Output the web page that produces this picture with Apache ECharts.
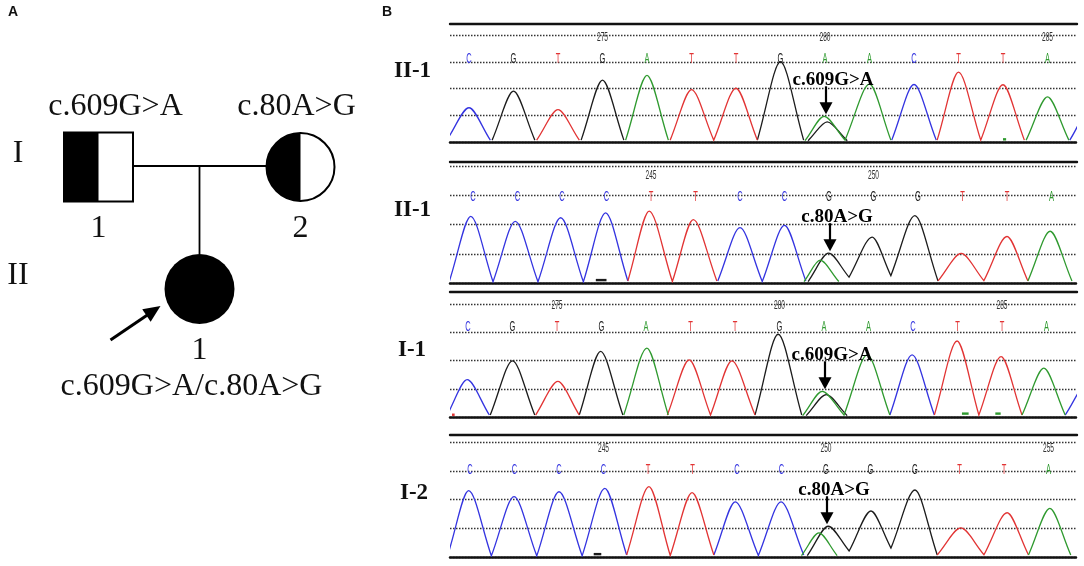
<!DOCTYPE html>
<html>
<head>
    <meta charset="utf-8">
    <title>Pedigree and Sanger sequencing</title>
    <style>
        html, body { margin: 0; padding: 0; background: #fff; }
        #chart { width: 1084px; height: 566px; }
    </style>
</head>
<body>
<div id="chart"></div>

<script src="https://cdn.jsdelivr.net/npm/echarts@6/dist/echarts.min.js"></script>
<script>
    // ---- pedigree (panel A) ----
    var pedIds = ['I-1', 'I-2', 'II-1'];
    var pedGen = [1, 1, 2];
    var pedPos = [1, 3, 2];
    var pedSex = ['M', 'F', 'F'];
    var pedStatus = ['carrier', 'carrier', 'affected'];
    var pedNumbers = ['1', '2', '1'];
    var pedGenotypes = ['c.609G>A', 'c.80A>G', 'c.609G>A/c.80A>G'];
    var pedProband = [false, false, true];
    var genLabels = ['', 'I', 'II', ''];
    var matings = [[1, 3, 1, 2]]; // father pos, mother pos, generation, child pos

    // ---- chromatograms (panel B) ----
    var rowNames = ['II-1', 'II-1', 'I-1', 'I-2'];
    var rowBases = ['CGTGATTGAACTTA', 'CCCCTTCCGGGTTA', 'CGTGATTGAACTTA', 'CCCCTTCCGGGTTA'];
    var rowTicks = [
        [[3, '275'], [8, '280'], [13, '285']],
        [[4, '245'], [9, '250']],
        [[2, '275'], [7, '280'], [12, '285']],
        [[3, '245'], [8, '250'], [13, '255']]
    ];
    var rowMutation = ['c.609G>A', 'c.80A>G', 'c.609G>A', 'c.80A>G'];
    var rowMutationAt = [8, 8, 8, 8];

    // trace extrema per dye: [base index, signal], valley / crest / valley ...
    var row1C = [[[-0.5, 0.07], [0, 1.28], [0.48, 0.07]], [[9.5, 0.07], [10, 2.15], [10.5, 0.07]], [[13.5, 0.07], [14, 1.35], [14.5, 0.07]]];
    var row1G = [[[0.52, 0.07], [1, 1.9], [1.48, 0.07]], [[2.52, 0.07], [3, 2.31], [3.48, 0.07]], [[6.48, 0.07], [7, 3.0], [7.52, 0.07]], [[7.62, 0.05], [8.05, 0.75], [8.5, 0.05]]];
    var row1T = [[[1.52, 0.07], [2, 1.21], [2.48, 0.07]], [[4.52, 0.07], [5, 1.96], [5.5, 0.07], [6, 2.01], [6.48, 0.07]], [[10.52, 0.07], [11, 2.61], [11.5, 0.07], [12, 2.14], [12.48, 0.07]]];
    var row1A = [[[3.52, 0.07], [4, 2.49], [4.48, 0.07]], [[7.55, 0.05], [7.98, 0.96], [8.45, 0.07], [9, 2.16], [9.48, 0.07]], [[12.52, 0.07], [13, 1.69], [13.48, 0.07]]];

    var row2C = [[[-0.53, 0.07], [-0.05, 2.28], [0.45, 0.04], [0.95, 2.11], [1.46, 0.04], [1.97, 2.23], [2.48, 0.04], [2.98, 2.4], [3.48, 0.07]], [[5.5, 0.07], [6, 1.89], [6.5, 0.05], [7, 1.97], [7.48, 0.07]]];
    var row2G = [[[7.53, 0.05], [7.99, 1.02], [8.45, 0.2], [8.97, 1.57], [9.39, 0.25], [9.93, 2.3], [10.45, 0.07]]];
    var row2T = [[[3.48, 0.07], [3.96, 2.46], [4.48, 0.05], [4.95, 2.17], [5.48, 0.07]], [[10.45, 0.07], [10.97, 1.01], [11.48, 0.08], [12, 1.59], [12.47, 0.07]]];
    var row2A = [[[7.44, 0.05], [7.8, 0.78], [8.22, 0.05]], [[12.47, 0.07], [12.97, 1.77], [13.46, 0.07]]];

    var row3C = [[[-0.47, 0.07], [-0.02, 1.32], [0.48, 0.07]], [[9.48, 0.07], [9.98, 2.2], [10.48, 0.07]], [[13.42, 0.07], [13.92, 1.2], [14.42, 0.07]]];
    var row3G = [[[0.5, 0.07], [1, 1.99], [1.5, 0.07]], [[2.5, 0.07], [2.98, 2.32], [3.48, 0.07]], [[6.45, 0.07], [6.97, 2.93], [7.5, 0.07]], [[7.6, 0.05], [8.05, 0.79], [8.52, 0.05]]];
    var row3T = [[[1.52, 0.07], [2.02, 1.26], [2.5, 0.07]], [[4.48, 0.07], [4.97, 2.02], [5.45, 0.07], [5.93, 1.99], [6.45, 0.07]], [[10.48, 0.07], [10.99, 2.69], [11.48, 0.07], [11.98, 2.14], [12.45, 0.07]]];
    var row3A = [[[3.5, 0.07], [4.02, 2.44], [4.5, 0.07]], [[7.52, 0.05], [7.96, 0.91], [8.45, 0.07], [8.97, 2.2], [9.48, 0.07]], [[12.45, 0.07], [12.94, 1.73], [13.42, 0.07]]];

    var row4C = [[[-0.5, 0.07], [-0.03, 2.31], [0.48, 0.04], [0.99, 2.1], [1.5, 0.04], [2, 2.27], [2.52, 0.04], [3.03, 2.39], [3.52, 0.07]], [[5.48, 0.07], [5.96, 1.92], [6.48, 0.05], [6.99, 1.92], [7.5, 0.07]]];
    var row4G = [[[7.58, 0.05], [8.05, 1.07], [8.52, 0.21], [9.01, 1.6], [9.46, 0.31], [10, 2.33], [10.5, 0.07]]];
    var row4T = [[[3.52, 0.07], [4.02, 2.45], [4.5, 0.05], [4.99, 2.24], [5.48, 0.07]], [[10.5, 0.07], [11.03, 1.01], [11.55, 0.08], [12.07, 1.54], [12.55, 0.07]]];
    var row4A = [[[7.45, 0.05], [7.84, 0.84], [8.25, 0.05]], [[12.55, 0.07], [13.03, 1.69], [13.5, 0.07]]];

    // small stray marks near the baseline: [from, to, signal, dye]
    var row1Blips = [[12.0, 12.07, 0.1, 'A']];
    var row2Blips = [[2.76, 3.0, 0.1, 'G']];
    var row3Blips = [[-0.36, -0.3, 0.08, 'T'], [11.1, 11.25, 0.12, 'A'], [11.85, 11.97, 0.12, 'A']];
    var row4Blips = [[2.78, 2.95, 0.1, 'G']];

    var rowTraces = [
        {C: row1C, G: row1G, T: row1T, A: row1A},
        {C: row2C, G: row2G, T: row2T, A: row2A},
        {C: row3C, G: row3G, T: row3T, A: row3A},
        {C: row4C, G: row4G, T: row4T, A: row4A}
    ];
    var rowBlips = [row1Blips, row2Blips, row3Blips, row4Blips];

    // ---- look ----
    var dyeColors = {A: '#2f9a2f', C: '#3434e0', G: '#1c1c1c', T: '#e23434'};
    var serif = "'Liberation Serif', 'Times New Roman', serif";
    var sans = "'Liberation Sans', Arial, sans-serif";

    // layout in pixels
    var rowRule = [24, 162, 292, 435];
    var rowTop = [35, 166, 304, 442];
    var rowBottom = [142, 283, 417, 557];
    var rowFirstBase = [469, 473, 468, 470];
    var rowLabelY = [70, 209, 349, 492];
    var rowLabelX = [394, 394, 398, 400];
    var plotLeft = 450, plotWidth = 627, baseStep = 44.5;

    var chart = echarts.init(document.getElementById('chart'));

    // straight flanks, rounded crest
    function tracePath(run, api) {
        var pts = run.map(function (p) { return api.coord(p); });
        var d = 'M' + pts[0][0] + ' ' + pts[0][1];
        for (var i = 1; i < pts.length; i++) {
            var a = pts[i - 1], b = pts[i];
            var dx = b[0] - a[0], dy = b[1] - a[1];
            var c1, c2;
            if (dy < 0) {   // going up to a crest
                c1 = [a[0] + 0.4 * dx, a[1] + 0.4 * dy];
                c2 = [b[0] - 0.28 * dx, b[1]];
            } else {        // coming down from a crest
                c1 = [a[0] + 0.28 * dx, a[1]];
                c2 = [b[0] - 0.4 * dx, b[1] - 0.4 * dy];
            }
            d += ' C' + c1[0] + ' ' + c1[1] + ' ' + c2[0] + ' ' + c2[1] + ' ' + b[0] + ' ' + b[1];
        }
        return d;
    }

    function traceSeries(r, dye) {
        var runs = rowTraces[r][dye];
        return {
            type: 'custom',
            xAxisIndex: 1 + 2 * r,
            yAxisIndex: 1 + r,
            clip: true,
            silent: true,
            data: runs.map(function (run) { return [run[1][0], run[1][1]]; }),
            renderItem: function (params, api) {
                return {
                    type: 'path',
                    shape: {pathData: tracePath(runs[params.dataIndex], api)},
                    style: {stroke: dyeColors[dye], fill: null, lineWidth: 1.3}
                };
            }
        };
    }

    function blipSeries(r) {
        var blips = rowBlips[r];
        return {
            type: 'custom',
            xAxisIndex: 1 + 2 * r,
            yAxisIndex: 1 + r,
            silent: true,
            data: blips.map(function (b) { return [b[0], b[2]]; }),
            renderItem: function (params, api) {
                var b = blips[params.dataIndex];
                var p1 = api.coord([b[0], b[2]]), p2 = api.coord([b[1], b[2]]);
                return {
                    type: 'line',
                    shape: {x1: p1[0], y1: p1[1], x2: Math.max(p2[0], p1[0] + 2), y2: p2[1]},
                    style: {stroke: dyeColors[b[3]], lineWidth: 2.4}
                };
            }
        };
    }

    function baseCallSeries(r) {
        var bases = rowBases[r].split('');
        var ticks = rowTicks[r];
        var items = bases.map(function (b, i) { return [i, 3, b]; })
            .concat(ticks.map(function (t) { return [t[0], 4, t[1]]; }));
        return {
            type: 'custom',
            xAxisIndex: 1 + 2 * r,
            yAxisIndex: 1 + r,
            silent: true,
            data: items.map(function (it) { return [it[0], it[1]]; }),
            renderItem: function (params, api) {
                var it = items[params.dataIndex];
                var x = api.coord([it[0], it[1]])[0];
                var isTick = it[1] === 4;
                return {
                    type: 'text',
                    x: x,
                    y: isTick ? rowRule[r] + 14 : rowRule[r] + 35,
                    scaleX: isTick ? 0.55 : 0.5,
                    style: {
                        text: it[2],
                        x: 0, y: 0,
                        align: 'center',
                        verticalAlign: 'middle',
                        fill: isTick ? '#333' : dyeColors[it[2]],
                        font: (isTick ? '12px ' : '15px ') + sans
                    }
                };
            }
        };
    }

    function crestAt(r, at) {
        var best = 0;
        ['A', 'C', 'G', 'T'].forEach(function (dye) {
            rowTraces[r][dye].forEach(function (run) {
                run.forEach(function (p) {
                    if (Math.abs(p[0] - at) < 0.3 && p[1] > best) best = p[1];
                });
            });
        });
        return best;
    }

    function mutationSeries(r) {
        var at = rowMutationAt[r];
        return {
            type: 'custom',
            xAxisIndex: 1 + 2 * r,
            yAxisIndex: 1 + r,
            silent: true,
            z: 5,
            data: [[at, crestAt(r, at)]],
            renderItem: function (params, api) {
                var p = api.coord([api.value(0), api.value(1)]);
                var x = p[0] + 1, tip = p[1] - 2;
                return {
                    type: 'group',
                    children: [
                        {type: 'line', shape: {x1: x, y1: tip - 10, x2: x, y2: tip - 28}, style: {stroke: '#000', lineWidth: 2.2}},
                        {type: 'polygon', shape: {points: [[x - 6.5, tip - 12], [x + 6.5, tip - 12], [x, tip]]}, style: {fill: '#000'}},
                        {type: 'text', style: {
                            text: rowMutation[r], x: x + 7, y: tip - 25,
                            align: 'center', verticalAlign: 'bottom',
                            fill: '#000', font: 'bold 19px ' + serif
                        }}
                    ]
                };
            }
        };
    }

    // ---- pedigree drawing ----
    var genotypeShift = [17, -4, -8];

    var matingSeries = {
        type: 'custom',
        xAxisIndex: 0,
        yAxisIndex: 0,
        silent: true,
        data: matings.map(function (m) { return [m[0], m[2]]; }),
        renderItem: function (params, api) {
            var m = matings[params.dataIndex];
            var f = api.coord([m[0], m[2]]), mo = api.coord([m[1], m[2]]);
            var mid = api.coord([(m[0] + m[1]) / 2, m[2]]);
            var child = api.coord([m[3], m[2] + 1]);
            return {
                type: 'group',
                children: [
                    {type: 'line', shape: {x1: f[0] + 34, y1: f[1] - 1, x2: mo[0] - 34, y2: mo[1] - 1}, style: {stroke: '#000', lineWidth: 1.8}},
                    {type: 'line', shape: {x1: mid[0], y1: mid[1] - 1, x2: child[0], y2: child[1] - 35}, style: {stroke: '#000', lineWidth: 1.8}}
                ]
            };
        }
    };

    var individualSeries = {
        type: 'custom',
        xAxisIndex: 0,
        yAxisIndex: 0,
        silent: true,
        data: pedIds.map(function (id, i) { return [pedPos[i], pedGen[i]]; }),
        renderItem: function (params, api) {
            var i = params.dataIndex;
            var c = api.coord([pedPos[i], pedGen[i]]);
            var kids = [];
            if (pedSex[i] === 'M') {
                var h = 34.5;
                if (pedStatus[i] !== 'normal') {
                    kids.push({type: 'rect', shape: {x: c[0] - h, y: c[1] - h, width: pedStatus[i] === 'carrier' ? h : 2 * h, height: 2 * h}, style: {fill: '#000'}});
                }
                kids.push({type: 'rect', shape: {x: c[0] - h, y: c[1] - h, width: 2 * h, height: 2 * h}, style: {fill: null, stroke: '#000', lineWidth: 2}});
            } else if (pedStatus[i] === 'affected') {
                kids.push({type: 'circle', shape: {cx: c[0], cy: c[1], r: 35}, style: {fill: '#000'}});
            } else {
                kids.push({type: 'sector', shape: {cx: c[0], cy: c[1], r0: 0, r: 34, startAngle: Math.PI / 2, endAngle: Math.PI * 1.5}, style: {fill: '#000'}});
                kids.push({type: 'circle', shape: {cx: c[0], cy: c[1], r: 34}, style: {fill: null, stroke: '#000', lineWidth: 2}});
            }
            var font = '32px ' + serif;
            kids.push({type: 'text', style: {text: pedNumbers[i], x: c[0], y: c[1] + 62, align: 'center', verticalAlign: 'middle', fill: '#111', font: font}});
            kids.push({type: 'text', style: {
                text: pedGenotypes[i], x: c[0] + genotypeShift[i],
                y: pedGen[i] === 1 ? c[1] - 60 : c[1] + 98,
                align: 'center', verticalAlign: 'middle', fill: '#111', font: font
            }});
            if (pedProband[i]) {
                var tail = [c[0] - 89, c[1] + 51], tip = [c[0] - 39, c[1] + 17];
                var len = Math.sqrt(Math.pow(tip[0] - tail[0], 2) + Math.pow(tip[1] - tail[1], 2));
                var ux = (tip[0] - tail[0]) / len, uy = (tip[1] - tail[1]) / len;
                var bx = tip[0] - ux * 17, by = tip[1] - uy * 17;
                kids.push({type: 'line', shape: {x1: tail[0], y1: tail[1], x2: bx + ux * 2, y2: by + uy * 2}, style: {stroke: '#000', lineWidth: 3}});
                kids.push({type: 'polygon', shape: {points: [tip, [bx - uy * 7.5, by + ux * 7.5], [bx + uy * 7.5, by - ux * 7.5]]}, style: {fill: '#000'}});
            }
            return {type: 'group', children: kids};
        }
    };

    // ---- axes and grids ----
    var grids = [{left: 48, top: 45, width: 303, height: 366}];
    var xAxes = [{gridIndex: 0, type: 'value', min: 0.5, max: 3.5, show: false}];
    var yAxes = [{
        gridIndex: 0, type: 'value', min: 0, max: 3, interval: 1, inverse: true,
        axisLine: {show: false}, axisTick: {show: false}, splitLine: {show: false},
        axisLabel: {
            show: true, margin: 30, align: 'center', verticalAlign: 'bottom', lineHeight: 26,
            fontSize: 32, fontFamily: serif, color: '#111',
            formatter: function (v) { return genLabels[v] || ''; }
        }
    }];
    var series = [matingSeries, individualSeries];
    var titles = [
        {text: 'A', left: 8, top: 5, padding: 0, textStyle: {fontSize: 14, fontWeight: 'bold', fontFamily: sans, color: '#111'}},
        {text: 'B', left: 382, top: 5, padding: 0, textStyle: {fontSize: 14, fontWeight: 'bold', fontFamily: sans, color: '#111'}}
    ];

    for (var r = 0; r < 4; r++) {
        var xmin = -(rowFirstBase[r] - plotLeft) / baseStep;
        var xmax = xmin + plotWidth / baseStep;
        grids.push({left: plotLeft, top: rowTop[r], width: plotWidth, height: rowBottom[r] - rowTop[r]});
        xAxes.push({
            gridIndex: r + 1, type: 'value', min: xmin, max: xmax,
            axisLine: {show: true, onZero: false, lineStyle: {color: '#111', width: 2.6, type: [2, 1]}},
            axisTick: {show: false}, axisLabel: {show: false}, splitLine: {show: false}
        });
        xAxes.push({
            gridIndex: r + 1, type: 'value', position: 'top', offset: rowTop[r] - rowRule[r], min: xmin, max: xmax,
            axisLine: {show: true, onZero: false, lineStyle: {color: '#111', width: 2.4}},
            axisTick: {show: false}, axisLabel: {show: false}, splitLine: {show: false}
        });
        yAxes.push({
            gridIndex: r + 1, type: 'value', min: 0, max: 4, interval: 1,
            axisLine: {show: false}, axisTick: {show: false}, axisLabel: {show: false},
            splitLine: {show: true, lineStyle: {color: '#333', width: 1.4, type: [1.5, 1.5]}}
        });
        ['C', 'G', 'T', 'A'].forEach(function (dye) { series.push(traceSeries(r, dye)); });
        series.push(blipSeries(r));
        series.push(baseCallSeries(r));
        series.push(mutationSeries(r));
        titles.push({
            text: rowNames[r], left: rowLabelX[r], top: rowLabelY[r] - 10, padding: 0,
            textStyle: {fontSize: 23, fontWeight: 'bold', fontFamily: serif, color: '#111'}
        });
    }

    chart.setOption({
        animation: false,
        backgroundColor: '#fff',
        title: titles,
        grid: grids,
        xAxis: xAxes,
        yAxis: yAxes,
        series: series
    });
</script>
</body>
</html>
